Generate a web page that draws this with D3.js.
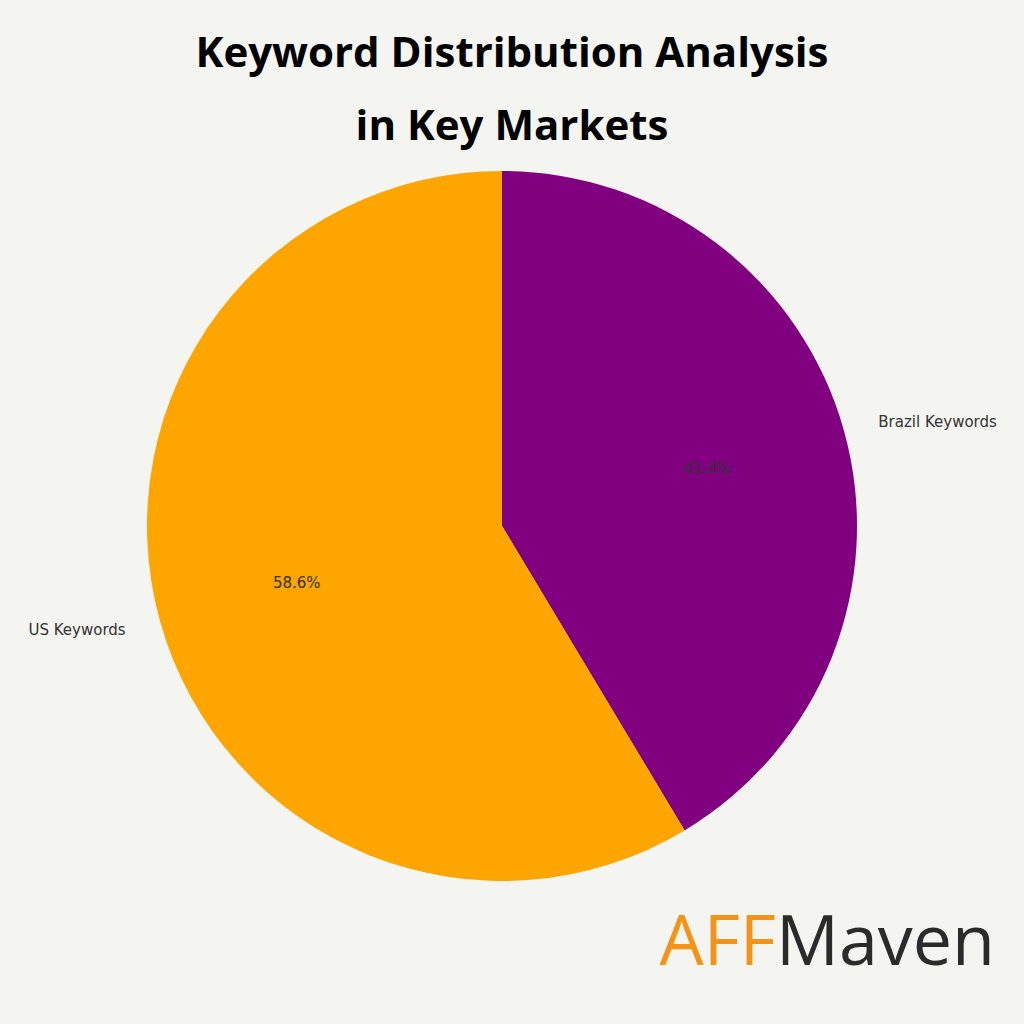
<!DOCTYPE html>
<html>
<head>
<meta charset="utf-8">
<script src="https://cdn.jsdelivr.net/npm/d3@7"></script>
<style>
body{margin:0;background:#f4f4f0;}
</style>
</head>
<body>
<svg id="chart" width="1024" height="1024"></svg>
<script>
var labels = ["Brazil Keywords", "US Keywords"];
var values = [41.4, 58.6];
var colors = ["#800080", "#ffa500"];

var svg = d3.select("#chart");
svg.append("rect").attr("width", 1024).attr("height", 1024).attr("fill", "#f4f4f0");

var title = svg.append("text").attr("text-anchor", "middle")
  .style("font-family", "'Open Sans', sans-serif").style("font-weight", "700").style("font-size", "42px").attr("fill", "#000");
title.append("tspan").attr("x", 512).attr("y", 67).text("Keyword Distribution Analysis");
title.append("tspan").attr("x", 512).attr("y", 140).text("in Key Markets");

var radius = 355;
var g = svg.append("g").attr("transform", "translate(502,526)");
var data = labels.map(function (l, i) { return {label: l, value: values[i], color: colors[i]}; });
var pie = d3.pie().value(d => d.value).sort(null);
var arc = d3.arc().innerRadius(0).outerRadius(radius);
var inner = d3.arc().innerRadius(radius * 0.6).outerRadius(radius * 0.6);
var outer = d3.arc().innerRadius(radius * 1.1).outerRadius(radius * 1.1);

var slices = pie(data);
g.selectAll("path").data(slices).enter().append("path")
  .attr("d", arc).attr("fill", d => d.data.color);

g.selectAll("text.pct").data(slices).enter().append("text").attr("class", "pct")
  .attr("transform", d => "translate(" + inner.centroid(d) + ")")
  .attr("text-anchor", "middle").attr("dy", "0.35em")
  .style("font-family", "'DejaVu Sans', sans-serif").style("font-size", "15px")
  .attr("fill", "#333")
  .text(d => d.data.value.toFixed(1) + "%");

g.selectAll("text.lbl").data(slices).enter().append("text").attr("class", "lbl")
  .attr("transform", d => "translate(" + outer.centroid(d) + ")")
  .attr("text-anchor", d => (d.startAngle + d.endAngle) / 2 < Math.PI ? "start" : "end")
  .attr("dy", "0.35em")
  .style("font-family", "'DejaVu Sans', sans-serif").style("font-size", "15px")
  .attr("fill", "#333")
  .text(d => d.data.label);

var logo = svg.append("text").attr("x", 995).attr("y", 965).attr("text-anchor", "end")
  .style("font-family", "'Open Sans', sans-serif").style("font-size", "70px");
logo.append("tspan").attr("fill", "#f39418").text("AFF");
logo.append("tspan").attr("fill", "#2b2b2b").text("Maven");
</script>
</body>
</html>
